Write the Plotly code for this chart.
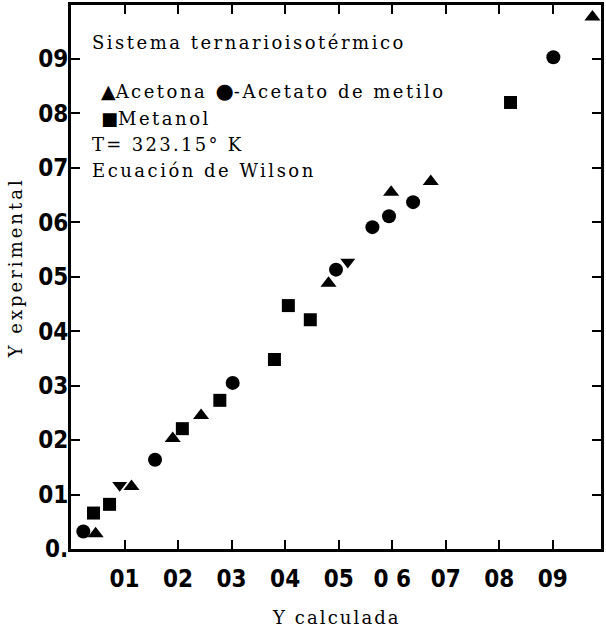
import plotly.graph_objects as go

# Y calculada / Y experimental pairs for each component
acetona_x = [0.046, 0.113, 0.190, 0.243, 0.481, 0.598, 0.672, 0.974]
acetona_y = [0.028, 0.115, 0.203, 0.245, 0.488, 0.655, 0.675, 0.977]

acetona_inv_x = [0.091, 0.517]
acetona_inv_y = [0.117, 0.527]

acetato_x = [0.023, 0.157, 0.302, 0.495, 0.563, 0.594, 0.639, 0.901]
acetato_y = [0.032, 0.164, 0.305, 0.513, 0.591, 0.611, 0.637, 0.903]

metanol_x = [0.042, 0.072, 0.208, 0.278, 0.380, 0.406, 0.447, 0.821]
metanol_y = [0.066, 0.082, 0.221, 0.273, 0.348, 0.447, 0.421, 0.820]

tick_vals = [0.1, 0.2, 0.3, 0.4, 0.5, 0.6, 0.7, 0.8, 0.9]
x_tick_text = ["01", "02", "03", "04", "05", "0 6", "07", "08", "09"]
y_tick_vals = [0.0] + tick_vals
y_tick_text = ["0.", "01", "02", "03", "04", "05", "06", "07", "08", "09"]

W, H = 606, 633
L, R, T, B = 71, 2, 5, 84

def px(x):
    return (x - L) / (W - L - R)

def py(y):
    return (H - B - y) / (H - T - B)

serif = "DejaVu Serif, Liberation Serif, serif"
bold_narrow = "Liberation Sans Narrow, DejaVu Sans Condensed, Liberation Sans, sans-serif"

def spaced(s, ls=2.5):
    # typewriter-like tracking
    return '<span style="letter-spacing:{}px">{}</span>'.format(ls, s)

fig = go.Figure()
fig.add_trace(go.Scatter(x=acetona_x, y=acetona_y, mode="markers", name="Acetona",
                         marker=dict(symbol="triangle-up", size=14, color="black")))
fig.add_trace(go.Scatter(x=acetona_inv_x, y=acetona_inv_y, mode="markers", name="Acetona",
                         marker=dict(symbol="triangle-down", size=13, color="black")))
fig.add_trace(go.Scatter(x=acetato_x, y=acetato_y, mode="markers", name="Acetato de metilo",
                         marker=dict(symbol="circle", size=14, color="black")))
fig.add_trace(go.Scatter(x=metanol_x, y=metanol_y, mode="markers", name="Metanol",
                         marker=dict(symbol="square", size=13, color="black")))

axis_common = dict(
    showline=True, linecolor="black", linewidth=3, mirror="ticks",
    ticks="inside", ticklen=9, tickwidth=2, tickcolor="black",
    showgrid=False, zeroline=False,
    tickfont=dict(family=bold_narrow, size=24, color="black", weight="bold"),
)

fig.update_layout(
    width=W, height=H,
    margin=dict(l=L, r=R, t=T, b=B),
    paper_bgcolor="white", plot_bgcolor="white",
    showlegend=False,
    xaxis=dict(range=[0, 0.99], tickvals=tick_vals, ticktext=x_tick_text,
               ticklabelstandoff=6, **axis_common),
    yaxis=dict(range=[0, 0.999], tickvals=y_tick_vals, ticktext=y_tick_text,
               ticklabelstandoff=-5, **axis_common),
)

nb = "\u00a0"
glyph = '<span style="font-family:DejaVu Sans;font-size:{}px">{}</span>'
notes = [
    (spaced("Sistema ternarioisotérmico"), 90, 42.5),
    (glyph.format(19, "▲") + spaced("Acetona" + nb) + glyph.format(21, "●")
     + spaced("-Acetato de metilo"), 99, 91),
    (glyph.format(18, "■") + spaced("Metanol"), 99, 118.5),
    (spaced("T= 323.15° K", 2.3), 90, 144.5),
    (spaced("Ecuación de Wilson"), 90, 170),
]
for text, x, y in notes:
    fig.add_annotation(text=text, x=px(x), y=py(y), xref="paper", yref="paper",
                       xanchor="left", yanchor="middle", showarrow=False,
                       font=dict(family=serif, size=18, color="black"))

fig.add_annotation(text=spaced("Y experimental", 3), x=px(15), y=py(268),
                   xref="paper", yref="paper", textangle=-90, showarrow=False,
                   xanchor="center", yanchor="middle",
                   font=dict(family=serif, size=18, color="black"))
fig.add_annotation(text=spaced("Y calculada", 2.1), x=px(338), y=py(617),
                   xref="paper", yref="paper", showarrow=False,
                   xanchor="center", yanchor="middle",
                   font=dict(family=serif, size=18, color="black"))

fig.write_html("out.html")
